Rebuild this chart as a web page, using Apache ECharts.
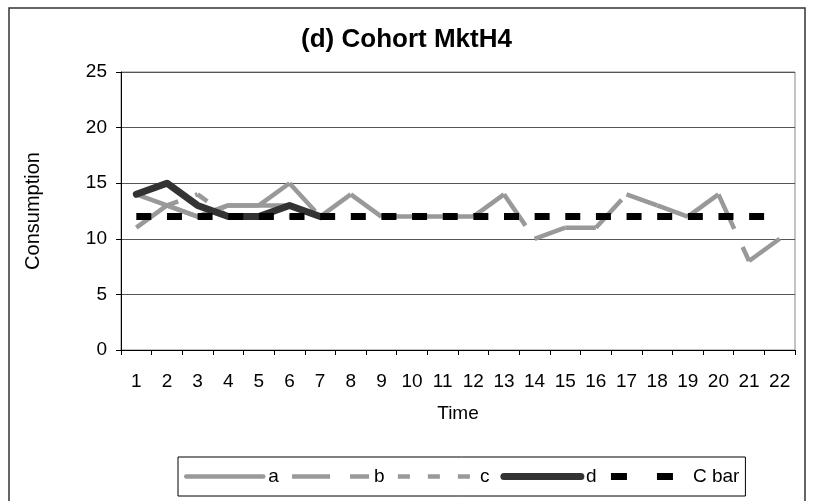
<!DOCTYPE html>
<html><head><meta charset="utf-8">
<script src="https://cdn.jsdelivr.net/npm/echarts@6/dist/echarts.min.js"></script>
<style>html,body{margin:0;padding:0;background:#fff}#c{width:813px;height:501px}</style>
</head><body><div id="c"></div>
<script>
const categories = ['1','2','3','4','5','6','7','8','9','10','11','12','13','14','15','16','17','18','19','20','21','22'];
const yTicks = [0, 5, 10, 15, 20, 25];
const seriesA = [14, 13, 12, 13, 13, 13, 12, null, null, null, null, null, null, null, null, null, null, null, null, null, null, null];
const seriesB = [11, 13, 12, 13, 13, 15, 12, 14, 12, 12, 12, 12, 14, 10, 11, 11, 14, 13, 12, 14, 8, 10];
const seriesC = [null, 13, 14, 12, 12, 12, 12, null, null, null, null, null, null, null, null, null, null, null, null, null, null, null];
const seriesD = [14, 15, 13, 12, 12, 13, 12, null, null, null, null, null, null, null, null, null, null, null, null, null, null, null];
const cBar = [12, 12, 12, 12, 12, 12, 12, 12, 12, 12, 12, 12, 12, 12, 12, 12, 12, 12, 12, 12, 12, 12];

const FONT = 'Liberation Sans';
const GRAY = '#999999';

// dashed series restart their dash pattern at every vertex (as in the original):
function segmentSeries(name, values, lineStyle, z) {
  const out = [];
  for (let i = 0; i < values.length - 1; i++) {
    if (values[i] == null || values[i + 1] == null) continue;
    out.push({
      name: name, type: 'line', symbol: 'none', z: z,
      data: values.map((v, j) => (j === i || j === i + 1) ? v : null),
      lineStyle: lineStyle, itemStyle: {color: lineStyle.color}, emphasis: {disabled: true}
    });
  }
  return out;
}

const styleA = {color: GRAY, width: 4.5, join: 'round'};
const styleB = {color: GRAY, width: 4.5, type: [38, 20], cap: 'butt'};
const styleC = {color: GRAY, width: 4.5, type: [12, 18], cap: 'butt'};
const styleD = {color: '#333333', width: 7, join: 'round', cap: 'round'};
const styleCBar = {color: '#000000', width: 7, type: [15, 15.64], cap: 'butt'};

const series = [
  {name: 'a', type: 'line', symbol: 'none', z: 2, data: seriesA, lineStyle: styleA, itemStyle: {color: GRAY}, emphasis: {disabled: true}},
  ...segmentSeries('b', seriesB, styleB, 2),
  ...segmentSeries('c', seriesC, styleC, 2),
  {name: 'd', type: 'line', symbol: 'none', z: 3, data: seriesD, lineStyle: styleD, itemStyle: {color: '#333333'}, emphasis: {disabled: true}},
  {name: 'C bar', type: 'line', symbol: 'none', z: 4, data: cBar, lineStyle: styleCBar, itemStyle: {color: '#000'}, emphasis: {disabled: true}}
];

const chart = echarts.init(document.getElementById('c'), null, {renderer: 'canvas'});
chart.setOption({
  animation: false,
  backgroundColor: '#fff',
  title: {
    text: '(d) Cohort MktH4', left: 'center', top: 22,
    textStyle: {fontFamily: FONT, fontSize: 26, fontWeight: 'bold', color: '#000'}
  },
  graphic: [{
    type: 'rect', shape: {x: 9, y: 8, width: 796, height: 502},
    style: {fill: 'none', stroke: '#333', lineWidth: 1.5}, silent: true, z: -1
  }],
  legend: {
    left: 178, top: 457,
    orient: 'horizontal',
    itemWidth: 77, itemHeight: 14, itemGap: 11,
    padding: [10, 6, 10, 6],
    borderColor: '#000', borderWidth: 1,
    textStyle: {fontFamily: FONT, fontSize: 19, color: '#000'},
    itemStyle: {color: 'rgba(0,0,0,0)', borderColor: 'rgba(0,0,0,0)', borderWidth: 0},
    selectedMode: false,
    data: [
      {name: 'a', lineStyle: {width: 4.5, type: 'solid', cap: 'round'}},
      {name: 'b', lineStyle: {width: 4.5, type: [38, 20]}},
      {name: 'c', lineStyle: {width: 4.5, type: [12, 18]}},
      {name: 'd', lineStyle: {width: 7, type: 'solid', cap: 'round'}},
      {name: 'C bar', lineStyle: {width: 7, type: [16, 30]}}
    ]
  },
  grid: {left: 121, right: 18, top: 72, bottom: 151, show: true, borderColor: '#888', borderWidth: 1, containLabel: false},
  xAxis: {
    type: 'category', data: categories, boundaryGap: true,
    name: 'Time', nameLocation: 'middle', nameGap: 54,
    nameTextStyle: {fontFamily: FONT, fontSize: 19, color: '#000'},
    axisLine: {lineStyle: {color: '#000', width: 1}},
    axisTick: {show: true, alignWithLabel: false, length: 5, lineStyle: {color: '#000'}},
    axisLabel: {fontFamily: FONT, fontSize: 19, color: '#000', margin: 22, interval: 0},
    splitLine: {show: false}
  },
  yAxis: {
    type: 'value', min: yTicks[0], max: yTicks[yTicks.length - 1], interval: 5,
    name: 'Consumption', nameLocation: 'middle', nameGap: 78, nameRotate: 90,
    nameTextStyle: {fontFamily: FONT, fontSize: 20, color: '#000'},
    axisLine: {show: true, lineStyle: {color: '#000', width: 1}},
    axisTick: {show: true, length: 5, lineStyle: {color: '#000'}},
    axisLabel: {fontFamily: FONT, fontSize: 19, color: '#000', margin: 14},
    splitLine: {show: true, lineStyle: {color: '#555', width: 1}}
  },
  series: series
});
</script>
</body></html>
